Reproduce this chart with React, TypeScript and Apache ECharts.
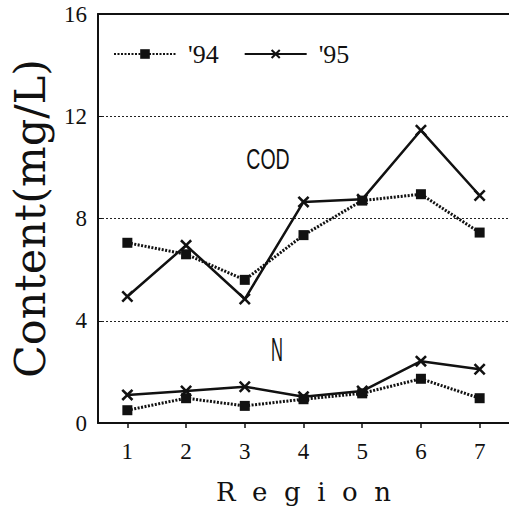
import React, { useEffect, useRef } from "react";
import * as echarts from "echarts";

const regions = ["1", "2", "3", "4", "5", "6", "7"];
const cod94 = [7.05, 6.6, 5.6, 7.35, 8.7, 8.95, 7.45];
const cod95 = [4.95, 6.95, 4.85, 8.65, 8.75, 11.45, 8.9];
const n94 = [0.5, 0.97, 0.67, 0.93, 1.16, 1.73, 0.97];
const n95 = [1.1, 1.25, 1.42, 1.03, 1.25, 2.42, 2.1];
const seriesNames = ["'94", "'95"];
const yTicks = { min: 0, max: 16, interval: 4 };

const X_SYMBOL =
  "path://M0,1.5 L1.5,0 L5,3.5 L8.5,0 L10,1.5 L6.5,5 L10,8.5 L8.5,10 L5,6.5 L1.5,10 L0,8.5 L3.5,5 Z";

export default function App() {
  const ref = useRef<HTMLDivElement>(null);
  useEffect(() => {
    if (!ref.current) return;
    const chart = echarts.init(ref.current, null, { renderer: "svg" });
    const dotted = { color: "#111", width: 3, type: [2, 1.5] as any };
    const solid = { color: "#111", width: 2.5, type: "solid" as any };
    const s94 = {
      type: "line",
      name: seriesNames[0],
      symbol: "rect",
      symbolSize: 10,
      lineStyle: dotted,
      itemStyle: { color: "#111" },
      z: 3,
    };
    const s95 = {
      type: "line",
      name: seriesNames[1],
      symbol: X_SYMBOL,
      symbolSize: 12,
      lineStyle: solid,
      itemStyle: { color: "#111" },
      z: 4,
    };
    chart.setOption({
      animation: false,
      backgroundColor: "#fff",
      grid: { left: 94, right: 0, top: 14, bottom: 93, containLabel: false },
      legend: {
        data: seriesNames,
        left: 113,
        top: 41,
        padding: 0,
        itemWidth: 62,
        itemHeight: 12,
        itemGap: 25,
        textStyle: {
          fontFamily: "Liberation Serif",
          fontSize: 26,
          color: "#111",
          padding: [0, 0, 0, 7],
        },
      },
      xAxis: [
        {
          type: "category",
          data: regions,
          boundaryGap: true,
          name: "R  e  g  i  o  n",
          nameLocation: "middle",
          nameGap: 56,
          nameTextStyle: { fontFamily: "DejaVu Serif", fontSize: 26, color: "#111" },
          axisLine: { lineStyle: { color: "#111", width: 2 } },
          axisTick: { show: true, alignWithLabel: true, length: 5, lineStyle: { color: "#111", width: 1.5 } },
          axisLabel: { fontFamily: "Liberation Serif", fontSize: 23, color: "#111", margin: 17 },
          splitLine: { show: false },
        },
        {
          type: "category",
          data: regions,
          position: "top",
          axisLine: { lineStyle: { color: "#111", width: 2 } },
          axisTick: { show: false },
          axisLabel: { show: false },
          splitLine: { show: false },
        },
      ],
      yAxis: {
        type: "value",
        min: yTicks.min,
        max: yTicks.max,
        interval: yTicks.interval,
        name: "Content(mg/L)",
        nameLocation: "middle",
        nameRotate: 90,
        nameGap: 47,
        nameTextStyle: { fontFamily: "DejaVu Serif", fontSize: 43, color: "#111" },
        axisLine: { show: true, lineStyle: { color: "#111", width: 2 } },
        axisTick: { show: true, inside: true, length: 4, lineStyle: { color: "#111", width: 1 } },
        axisLabel: { fontFamily: "Liberation Serif", fontSize: 23, color: "#111", margin: 11 },
        splitLine: { show: true, lineStyle: { color: "#222", width: 1, type: [2, 2] } },
      },
      graphic: [
        {
          type: "text",
          x: 268,
          y: 158,
          scaleX: 0.65,
          style: {
            text: "COD",
            font: "30px 'Liberation Sans'",
            fill: "#111",
            textAlign: "center",
            textVerticalAlign: "middle",
          },
        },
        {
          type: "text",
          x: 277,
          y: 350,
          scaleX: 0.5,
          style: {
            text: "N",
            font: "33px 'Liberation Sans'",
            fill: "#111",
            textAlign: "center",
            textVerticalAlign: "middle",
          },
        },
      ],
      series: [
        { ...s94, data: cod94 },
        { ...s95, data: cod95 },
        { ...s94, data: n94 },
        { ...s95, data: n95 },
      ],
    });
    return () => chart.dispose();
  }, []);
  return (
    <div
      ref={ref}
      style={{ position: "fixed", left: 0, top: 0, width: 509, height: 516 }}
    />
  );
}
